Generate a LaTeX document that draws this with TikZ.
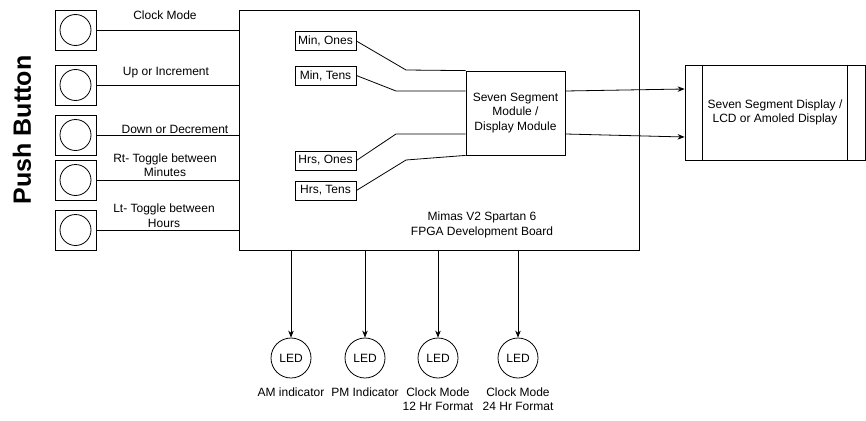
\documentclass[tikz,border=0pt]{standalone}
\usepackage{fontspec}
\setmainfont{Liberation Sans}
\usetikzlibrary{arrows.meta}
\begin{document}
\begin{tikzpicture}[x=1pt,y=-1pt,line width=0.8pt,
  lbl/.style={font=\fontsize{12}{14.5}\selectfont,align=center,inner sep=0pt},
  btnbox/.style={draw,minimum width=41pt,minimum height=40pt,inner sep=0pt},
  btnknob/.style={draw,circle,minimum size=31pt,inner sep=0pt},
  sigbox/.style={draw,minimum width=61pt,minimum height=19pt,inner sep=0pt,font=\fontsize{12}{14}\selectfont},
  led/.style={draw,circle,minimum size=40pt,inner sep=0pt,font=\fontsize{12}{14}\selectfont},
  arr/.style={-{Stealth[length=7pt,width=5.5pt]}}]
\useasboundingbox (0,0) rectangle (866,420);

% side title
\node[rotate=90,font=\bfseries\fontsize{25}{29}\selectfont] (title) at (22,130) {Push Button};

% FPGA board
\node[draw,minimum width=400pt,minimum height=240pt,inner sep=0pt] (board) at (439,130) {};
\node[lbl] (boardtxt) at (482,225) {Mimas V2 Spartan 6\\FPGA Development Board};

% push buttons
\foreach \i/\y in {1/30,2/85,3/135,4/180,5/230}{
  \node[btnbox] (b\i) at (75.5,\y) {};
  \node[btnknob] (k\i) at (b\i.center) {};
  \draw (b\i.east) -- (b\i.east -| board.west);
}
\node[lbl] (t1) at (165,15) {Clock Mode};
\node[lbl] (t2) at (166,73) {Up or Increment};
\node[lbl] (t3) at (175,129) {Down or Decrement};
\node[lbl] (t4) at (165,165) {Rt- Toggle between\\Minutes};
\node[lbl] (t5) at (164,215.5) {Lt- Toggle between\\Hours};

% digit signals
\node[sigbox] (mo) at (325.5,41) {Min, Ones};
\node[sigbox] (mt) at (325.5,75.5) {Min, Tens};
\node[sigbox] (ho) at (325.5,160.5) {Hrs, Ones};
\node[sigbox] (ht) at (325.5,190.5) {Hrs, Tens};

% seven segment module
\node[draw,minimum width=99pt,minimum height=84pt,inner sep=0pt,lbl] (mod) at (515.5,113)
  {Seven Segment\\Module /\\Display Module};

\coordinate (c1) at (406,70);
\coordinate (c2) at (396,91);
\coordinate (c3) at (396,134);
\coordinate (c4) at (406,160);
\draw (mo.east) -- (c1) -- (mod.north west);
\draw (mt.east) -- (c2) -- (c2 -| mod.west);
\draw (ho.east) -- (c3) -- (c3 -| mod.west);
\draw (ht.east) -- (c4) -- (mod.south west);

% display
\node[draw,minimum width=180pt,minimum height=95pt,inner sep=0pt,lbl] (disp) at (775,112.5)
  {Seven Segment Display /\\LCD or Amoled Display};
\draw ([xshift=18pt]disp.north west) -- ([xshift=18pt]disp.south west);
\draw ([xshift=-18pt]disp.north east) -- ([xshift=-18pt]disp.south east);

\draw[arr] (mod.east |- 0,91) -- (disp.west |- 0,89);
\draw[arr] (mod.east |- 0,134) -- (disp.west |- 0,137);

% indicator LEDs
\node[led] (l1) at (291,358) {LED};
\node[led] (l2) at (365,358) {LED};
\node[led] (l3) at (438,358) {LED};
\node[led] (l4) at (518,358) {LED};
\foreach \i in {1,2,3,4}{
  \draw[arr] (l\i.north |- board.south) -- (l\i.north);
}
\node[lbl,anchor=north] (a1) at (291,387) {AM indicator};
\node[lbl,anchor=north] (a2) at (365,387) {PM Indicator};
\node[lbl,anchor=north] (a3) at (438,387) {Clock Mode\\12 Hr Format};
\node[lbl,anchor=north] (a4) at (518,387) {Clock Mode\\24 Hr Format};
\end{tikzpicture}
\end{document}
